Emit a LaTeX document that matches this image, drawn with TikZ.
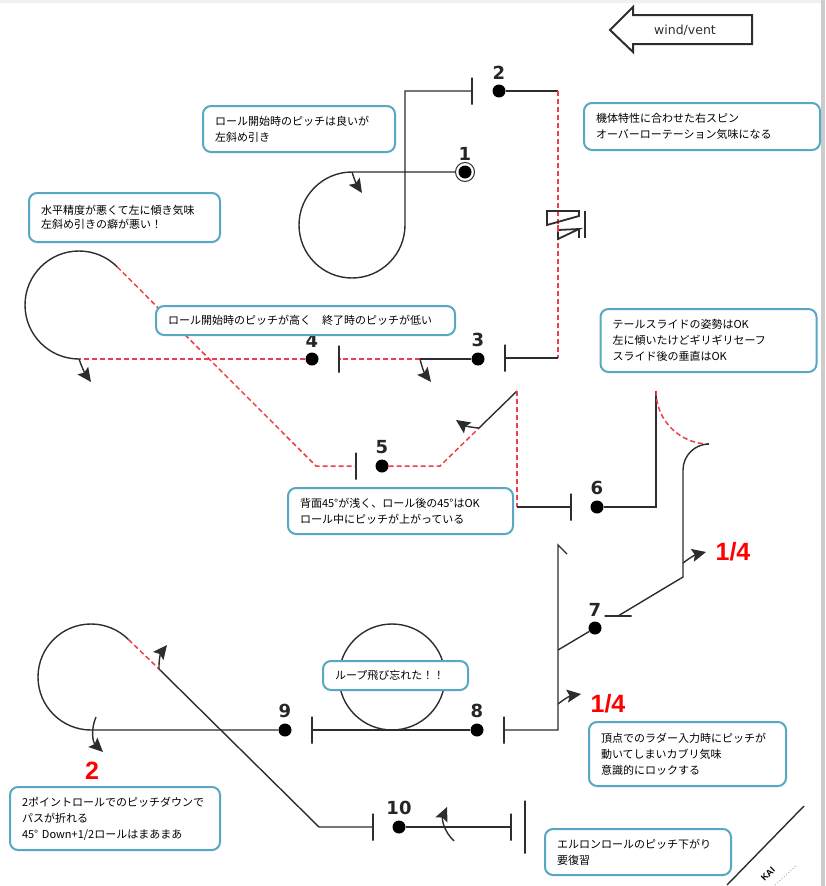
\documentclass[tikz,border=0pt]{standalone}
\usepackage{fontspec}
\setmainfont{Noto Sans CJK JP}
\newfontfamily\wptfont{DejaVu Sans}
\newfontfamily\redfont{Liberation Sans}
\usetikzlibrary{positioning,arrows.meta}
\definecolor{inkcol}{RGB}{45,45,45}
\definecolor{slipcol}{RGB}{240,60,75}
\definecolor{notecol}{RGB}{88,168,195}
\tikzset{
	flight/.style={line width=1.4pt,draw=inkcol},
	slip/.style={line width=1.5pt,draw=slipcol,dash pattern=on 5pt off 3pt},
	flick/.style={line width=1.4pt,draw=inkcol,-{Stealth[length=14pt,width=13pt,inset=2.5pt]}},
	wpt/.style={circle,fill=black,minimum size=13pt,inner sep=0pt},
	wptnum/.style={font=\wptfont\bfseries\fontsize{18}{18}\selectfont,text=black!85,inner sep=0pt},
	gate/.style={rectangle,draw=inkcol,line width=1.4pt,minimum width=0pt,minimum height=27pt,inner sep=0pt},
	redmark/.style={font=\redfont\bfseries\fontsize{25}{25}\selectfont,text=red,inner sep=0pt},
	note/.style 2 args={rectangle,rounded corners=8pt,draw=notecol,line width=2pt,fill=white,align=left,
		font=\fontsize{11}{16}\selectfont,inner xsep=12pt,inner ysep=0pt,
		text width=#1pt-24pt,minimum height=#2pt}
}
\begin{document}
\begin{tikzpicture}[x=1pt,y=-1pt]
	\useasboundingbox (0,0) rectangle (825,886);
	\fill[black!20] (821,0) rectangle (825,886);
	\fill[black!6] (0,0) rectangle (821,3);

	% wind arrow
	\draw[line width=2pt,draw=inkcol] (610,30) -- (633,7) -- (633,15) -- (752,15) -- (752,44) -- (633,44) -- (633,52) -- cycle;
	\node[font=\wptfont\fontsize{12.5}{12.5}\selectfont,text=inkcol] (wind) at (685,30) {wind/vent};

	% waypoints
	\begin{scope}[every node/.style={wpt}]
	\node (wp 1) at (465,172) {};
	\node (wp 2) at (499,91) {};
	\node (wp 3) at (478,359) {};
	\node (wp 4) at (312,359) {};
	\node (wp 5) at (382,466) {};
	\node (wp 6) at (597,507) {};
	\node (wp 7) at (595,628) {};
	\node (wp 8) at (477,730) {};
	\node (wp 9) at (285,730) {};
	\node (wp 10) at (399,827) {};
	\end{scope}
	\node[circle,draw=inkcol,line width=1pt,minimum size=19pt,inner sep=0pt] (ring 1) at (465,172) {};

	\begin{scope}[every node/.style={wptnum}]
	\node[above=5pt of wp 1] (num 1) {1};
	\node[above=5pt of wp 2] (num 2) {2};
	\node[above=5pt of wp 3] (num 3) {3};
	\node[above=5pt of wp 4] (num 4) {4};
	\node[above=5pt of wp 5] (num 5) {5};
	\node[above=5pt of wp 6] (num 6) {6};
	\node[above=5pt of wp 7] (num 7) {7};
	\node[above=5pt of wp 8] (num 8) {8};
	\node[above=5pt of wp 9] (num 9) {9};
	\node[above=5pt of wp 10] (num 10) {10};
	\end{scope}

	% gates
	\begin{scope}[every node/.style={gate}]
	\node (gate 2) at (472,91) {};
	\node (gate 3) at (505,358) {};
	\node (gate 4) at (339,359) {};
	\node (gate 5) at (356,466) {};
	\node (gate 6) at (571,507) {};
	\node[minimum width=27pt,minimum height=0pt] (gate 7) at (618,616) {};
	\node (gate 8) at (504,730) {};
	\node (gate 9) at (312,730) {};
	\node (gate 10) at (373,827) {};
	\node (gate 11) at (511,827) {};
	\node[minimum height=53pt] (gate 12) at (525,827) {};
	\end{scope}

	\coordinate (roll 1) at (352,172);
	\coordinate (corner 1) at (405,91);
	\coordinate (corner 2) at (558,91);
	\coordinate (corner 3) at (558,358);
	\coordinate (roll 3) at (420,359);
	\coordinate (roll 4) at (79,359);
	\coordinate (corner 4) at (316,466);
	\coordinate (corner 5) at (440,466);
	\coordinate (roll 5) at (479,428);
	\coordinate (top 5) at (517,391);
	\coordinate (corner 6) at (517,507);
	\coordinate (corner 7) at (656,507);
	\coordinate (top 6) at (656,391);
	\coordinate (end 6) at (709,444);
	\coordinate (turn 7) at (683,577);
	\coordinate (kink 7) at (558,650);
	\coordinate (top 8) at (558,545);
	\coordinate (hook 8) at (567,554);
	\coordinate (corner 8) at (558,730);
	\coordinate (roll 9) at (91,730);
	\coordinate (roll 10) at (159,669);
	\coordinate (corner 9) at (319,827);
	\coordinate (spin in) at (558,225);
	\coordinate (spin out) at (558,232);

	% flight path
	\draw[flight] (ring 1) -- (roll 1) arc (-90:-360:53) -- (corner 1) -- (gate 2);
	\draw[flight] (wp 2) -- (corner 2);
	\draw[slip] (corner 2) -- (corner 3);
	\draw[flight] (corner 3) -- (gate 3);
	\draw[flight] (wp 3) -- (roll 3);
	\draw[slip] (roll 3) -- (gate 4);
	\draw[slip] (wp 4) -- (roll 4);
	\draw[flight] (roll 4) arc (90:315:54) coordinate (exit 4);
	\draw[slip] (exit 4) -- (corner 4) -- (gate 5);
	\draw[slip] (wp 5) -- (corner 5) -- (roll 5);
	\draw[flight] (roll 5) -- (top 5);
	\draw[slip] (top 5) -- (corner 6);
	\draw[flight] (corner 6) -- (gate 6);
	\draw[flight] (wp 6) -- (corner 7) -- (top 6);
	\draw[slip] (top 6) arc (180:90:53);
	\draw[flight] (end 6) arc (270:180:26) -- (turn 7) -- (gate 7);
	\draw[flight] (wp 7) -- (kink 7);
	\draw[flight] (hook 8) -- (top 8) -- (corner 8) -- (gate 8);
	\draw[flight] (wp 8) -- (gate 9);
	\node[circle,draw=inkcol,line width=1.4pt,minimum size=106pt,inner sep=0pt] (loop 8) at (392,677) {};
	\draw[flight] (wp 9) -- (roll 9) arc (90:315:53) coordinate (exit 9);
	\draw[slip] (exit 9) -- (roll 10);
	\draw[flight] (roll 10) -- (corner 9) -- (gate 10);
	\draw[flight] (wp 10) -- (gate 11);

	% spin symbol
	\draw[line width=1.8pt,draw=inkcol] (547,225) -- (547,211) -- (579,211) -- (579,216) -- cycle;
	\draw[line width=1.8pt,draw=inkcol] (558,239) -- (558,230) -- (579,229) -- cycle;
	\draw[line width=1.8pt,draw=inkcol] (579,229) -- (579,238);
	\draw[line width=1.4pt,draw=inkcol] (585,211) -- (585,238);
	\draw[line width=1.5pt,draw=slipcol] (spin in) -- (spin out);

	% roll marks
	\coordinate (flick 1) at (362,193);
	\coordinate (flick 3) at (431,382);
	\coordinate (flick 4) at (91,382);
	\coordinate (flick 5) at (456,420);
	\coordinate (flick 7) at (706,552);
	\coordinate (flick 8) at (581,694);
	\coordinate (flick 9) at (167,645);
	\coordinate (tail 6) at (683,563);
	\coordinate (tail 8) at (558,704);
	\coordinate (tail 2) at (96,717);
	\coordinate (flick 2) at (103,752);
	\coordinate (tail 10) at (454,841);
	\coordinate (flick 10) at (447,807);
	\draw[flick] (roll 1) to[bend right=8] (flick 1);
	\draw[flick] (roll 3) to[bend right=12] (flick 3);
	\draw[flick] (roll 4) to[bend right=8] (flick 4);
	\draw[flick] (roll 5) to[bend left=15] (flick 5);
	\draw[flick] (tail 6) to[bend left=12] (flick 7);
	\draw[flick] (tail 8) to[bend left=15] (flick 8);
	\draw[flick] (roll 10) to[bend left=20] (flick 9);
	\draw[flick] (tail 2) to[bend right=35] (flick 2);
	\draw[flick] (tail 10) to[bend left=35] (flick 10);

	\node[redmark] (mark 1) at (733,552) {1/4};
	\node[redmark] (mark 2) at (608,704) {1/4};
	\node[redmark] (mark 3) at (92,771) {2};

	% corner stamp
	\draw[line width=1.4pt,draw=inkcol] (804,806) -- (727,885);
	\node[rotate=45,font=\redfont\bfseries\fontsize{9}{9}\selectfont,inner sep=0pt] (stamp) at (768,874) {KAI};
	\draw[line width=1pt,draw=black!30,dotted] (775,885) -- (797,865);

	% comments
	\node[note={192}{46}] (note 1) at (299,129) {ロール開始時のピッチは良いが\\左斜め引き};
	\node[note={236}{47}] (note 2) at (702,126.5) {機体特性に合わせた右スピン\\オーバーローテーション気味になる};
	\node[note={191}{49}] (note 3) at (124.5,217.5) {水平精度が悪くて左に傾き気味\\[-2pt]左斜め引きの癖が悪い！};
	\node[note={299}{29}] (note 4) at (305.5,320.5) {ロール開始時のピッチが高く　終了時のピッチが低い};
	\node[note={216}{63}] (note 5) at (708.5,340.5) {テールスライドの姿勢はOK\\左に傾いたけどギリギリセーフ\\スライド後の垂直はOK};
	\node[note={225}{46}] (note 6) at (400.5,511) {背面45°が浅く、ロール後の45°はOK\\ロール中にピッチが上がっている};
	\node[note={145}{29}] (note 7) at (395.5,675.5) {ループ飛び忘れた！！};
	\node[note={197}{64}] (note 8) at (687.5,754) {頂点でのラダー入力時にピッチが\\動いてしまいカブリ気味\\意識的にロックする};
	\node[note={210}{63}] (note 9) at (115,818.5) {2ポイントロールでのピッチダウンで\\パスが折れる\\45° Down+1/2ロールはまあまあ};
	\node[note={186}{46}] (note 10) at (638,852) {エルロンロールのピッチ下がり\\要復習};

\end{tikzpicture}
\end{document}
